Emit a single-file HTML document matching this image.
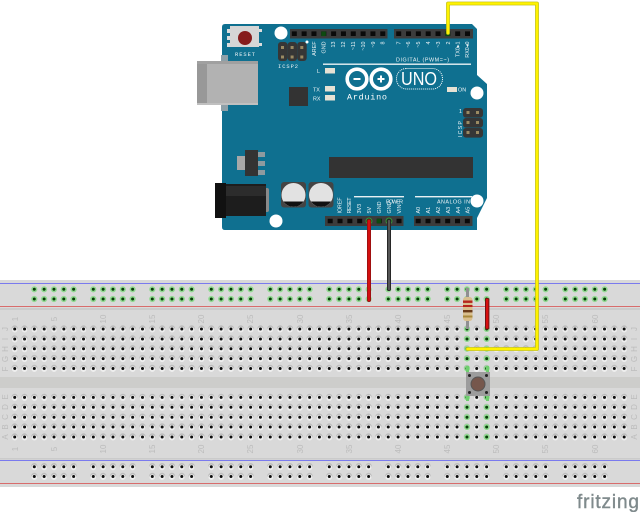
<!DOCTYPE html>
<html>
<head>
<meta charset="utf-8">
<style>
html,body{margin:0;padding:0;background:#fff}
svg{display:block;filter:blur(.3px)}
text{font-family:"Liberation Sans",sans-serif}
.w{font-family:"Liberation Mono",monospace;font-size:5.4px;fill:#eef4f6}
.t text{text-anchor:end}
.g{font-size:8px;fill:#bcbcbc;text-anchor:middle}
.ph{stroke:#bdbdbd;stroke-width:6.2;stroke-linecap:round;stroke-dasharray:0 9.83}
.pw{stroke:#eeeeee;stroke-width:5.6;stroke-linecap:round;stroke-dasharray:0 9.83}
.pk{stroke:#0c0c0c;stroke-width:3;stroke-linecap:round;stroke-dasharray:0 9.83}
.gh{stroke:#92da92;stroke-width:6.2;stroke-linecap:round;stroke-dasharray:0 9.83}
.gk{stroke:#0a3d0a;stroke-width:3;stroke-linecap:round;stroke-dasharray:0 9.83}
.hp{stroke:#0a0a0a;stroke-width:4.6;stroke-dasharray:5 4.83}
</style>
</head>
<body>
<svg width="640" height="512" viewBox="0 0 640 512" xmlns="http://www.w3.org/2000/svg">
<defs>
<g id="row">
<line class="ph" x1="14.7" x2="630" y1="-0.6" y2="-0.6"/>
<line class="pw" x1="14.7" x2="630" y1="0.7" y2="0.7"/>
<line class="pk" x1="14.7" x2="630" y1="0" y2="0"/>
</g>
<g id="g5">
<line class="gh" x1="0" x2="41" y1="0" y2="0"/>
<line class="gk" x1="0" x2="41" y1="0" y2="0"/>
</g>
<g id="b5">
<line class="ph" x1="0" x2="41" y1="-0.6" y2="-0.6"/>
<line class="pw" x1="0" x2="41" y1="0.7" y2="0.7"/>
<line class="pk" x1="0" x2="41" y1="0" y2="0"/>
</g>
<g id="g2">
<line class="gh" x1="0" x2="21" y1="0" y2="0" style="stroke-dasharray:0 19.66"/>
<line class="gk" x1="0" x2="21" y1="0" y2="0" style="stroke-dasharray:0 19.66"/>
</g>
<g id="grails"><use href="#g5" x="34.3"/><use href="#g5" x="93.3"/><use href="#g5" x="152.3"/><use href="#g5" x="211.3"/><use href="#g5" x="270.3"/><use href="#g5" x="329.3"/><use href="#g5" x="388.3"/><use href="#g5" x="447.3"/><use href="#g5" x="506.3"/><use href="#g5" x="565.3"/></g>
<g id="brails"><use href="#b5" x="34.3"/><use href="#b5" x="93.3"/><use href="#b5" x="152.3"/><use href="#b5" x="211.3"/><use href="#b5" x="270.3"/><use href="#b5" x="329.3"/><use href="#b5" x="388.3"/><use href="#b5" x="447.3"/><use href="#b5" x="506.3"/><use href="#b5" x="565.3"/></g>
</defs>

<rect width="640" height="512" fill="#fff"/>

<!-- breadboard -->
<rect x="0" y="280" width="640" height="207" fill="#d9d9d9"/>
<rect x="0" y="308" width="640" height="2" fill="#cbcbcb"/>
<rect x="0" y="458" width="640" height="1.5" fill="#cbcbcb"/>
<rect x="0" y="377" width="640" height="11" fill="#cdcdcb"/>
<rect x="0" y="283" width="640" height="1" fill="#7a7aee"/>
<rect x="0" y="306" width="640" height="1" fill="#d86c6c"/>
<rect x="0" y="460" width="640" height="1" fill="#7a7aee"/>
<rect x="0" y="483" width="640" height="1" fill="#d86c6c"/>

<use href="#grails" y="289.3"/>
<use href="#grails" y="299"/>
<use href="#row" y="329"/><use href="#row" y="339"/><use href="#row" y="348.8"/><use href="#row" y="358.6"/><use href="#row" y="368.5"/>
<use href="#row" y="397.4"/><use href="#row" y="407.3"/><use href="#row" y="417.2"/><use href="#row" y="427"/><use href="#row" y="437"/>
<use href="#brails" y="466.7"/>
<use href="#brails" y="476.5"/>

<!-- green columns -->
<use href="#g2" x="467" y="329"/><use href="#g2" x="467" y="339"/><use href="#g2" x="467" y="348.8"/><use href="#g2" x="467" y="358.6"/><use href="#g2" x="467" y="368.5"/>
<use href="#g2" x="467" y="397.4"/><use href="#g2" x="467" y="407.3"/><use href="#g2" x="467" y="417.2"/><use href="#g2" x="467" y="427"/><use href="#g2" x="467" y="437"/>

<!-- number labels -->
<g class="g">
<text transform="translate(18,319) rotate(-90)">1</text><text transform="translate(57,319) rotate(-90)">5</text><text transform="translate(106,319) rotate(-90)">10</text><text transform="translate(155,319) rotate(-90)">15</text><text transform="translate(204,319) rotate(-90)">20</text><text transform="translate(253,319) rotate(-90)">25</text><text transform="translate(303,319) rotate(-90)">30</text><text transform="translate(352,319) rotate(-90)">35</text><text transform="translate(401,319) rotate(-90)">40</text><text transform="translate(450,319) rotate(-90)">45</text><text transform="translate(499,319) rotate(-90)">50</text><text transform="translate(548,319) rotate(-90)">55</text><text transform="translate(598,319) rotate(-90)">60</text>
<text transform="translate(18,449) rotate(-90)">1</text><text transform="translate(57,449) rotate(-90)">5</text><text transform="translate(106,449) rotate(-90)">10</text><text transform="translate(155,449) rotate(-90)">15</text><text transform="translate(204,449) rotate(-90)">20</text><text transform="translate(253,449) rotate(-90)">25</text><text transform="translate(303,449) rotate(-90)">30</text><text transform="translate(352,449) rotate(-90)">35</text><text transform="translate(401,449) rotate(-90)">40</text><text transform="translate(450,449) rotate(-90)">45</text><text transform="translate(499,449) rotate(-90)">50</text><text transform="translate(548,449) rotate(-90)">55</text><text transform="translate(598,449) rotate(-90)">60</text>
<text transform="translate(8,329) rotate(-90)">J</text><text transform="translate(8,339) rotate(-90)">I</text><text transform="translate(8,349) rotate(-90)">H</text><text transform="translate(8,359) rotate(-90)">G</text><text transform="translate(8,369) rotate(-90)">F</text>
<text transform="translate(8,397) rotate(-90)">E</text><text transform="translate(8,407) rotate(-90)">D</text><text transform="translate(8,417) rotate(-90)">C</text><text transform="translate(8,427) rotate(-90)">B</text><text transform="translate(8,437) rotate(-90)">A</text>
<text transform="translate(637,329) rotate(-90)">J</text><text transform="translate(637,339) rotate(-90)">I</text><text transform="translate(637,349) rotate(-90)">H</text><text transform="translate(637,359) rotate(-90)">G</text><text transform="translate(637,369) rotate(-90)">F</text>
<text transform="translate(637,397) rotate(-90)">E</text><text transform="translate(637,407) rotate(-90)">D</text><text transform="translate(637,417) rotate(-90)">C</text><text transform="translate(637,427) rotate(-90)">B</text><text transform="translate(637,437) rotate(-90)">A</text>
</g>

<!-- arduino board -->
<path d="M225 24H472L477 29V75L487 84V198L477 218V230H225Q222 230 222 227V27Q222 24 225 24Z" fill="#0f7090"/>
<circle cx="281" cy="33" r="6.5" fill="#fff"/>
<circle cx="477" cy="93" r="6.5" fill="#fff"/>
<circle cx="276" cy="221" r="6.5" fill="#fff"/>
<circle cx="477" cy="201" r="6.5" fill="#fff"/>

<!-- USB -->
<rect x="221" y="55" width="7" height="56" fill="#8ea0a8"/>
<rect x="197" y="61" width="61" height="44" fill="#b2b2b2"/>
<rect x="197" y="61" width="10" height="44" fill="#989898"/>
<rect x="197" y="61" width="61" height="3" fill="#a0a0a0"/>
<rect x="197" y="103" width="61" height="2" fill="#c0c0c0"/>

<!-- reset -->
<rect x="227" y="29" width="4" height="4" fill="#ddd"/><rect x="227" y="36" width="4" height="4" fill="#ddd"/><rect x="227" y="43" width="4" height="4" fill="#ddd"/>
<rect x="259" y="29" width="3" height="3" fill="#ddd"/><rect x="259" y="43" width="3" height="3" fill="#ddd"/>
<rect x="230" y="26" width="29" height="21" fill="#d6d6d6"/>
<circle cx="245" cy="38" r="7" fill="#861c1c"/>
<text class="w" x="235" y="56" textLength="20">RESET</text>

<!-- ICSP2 -->
<rect x="278" y="42" width="9.5" height="19" rx="3" fill="#363636"/><rect x="287.6" y="42" width="9.5" height="19" rx="3" fill="#363636"/><rect x="297.2" y="42" width="9.5" height="19" rx="3" fill="#363636"/>
<g fill="#9a8a62"><rect x="281" y="46" width="3" height="3"/><rect x="290.6" y="46" width="3" height="3"/><rect x="300.3" y="46" width="3" height="3"/><rect x="281" y="55.5" width="3" height="3"/><rect x="290.6" y="55.5" width="3" height="3"/><rect x="300.3" y="55.5" width="3" height="3"/></g>
<circle cx="307" cy="42" r="1.5" fill="#fff"/>
<text class="w" x="278" y="68" textLength="20">ICSP2</text>

<!-- top headers -->
<rect x="290" y="29" width="97.5" height="9.5" fill="#3c3c3c"/>
<rect x="394" y="29" width="79" height="9.5" fill="#3c3c3c"/>
<line class="hp" x1="291.8" x2="386" y1="33.7" y2="33.7"/>
<line class="hp" x1="396.2" x2="471" y1="33.7" y2="33.7"/>
<rect x="321.3" y="31.5" width="4.6" height="4.6" fill="#0e4a10"/>
<rect x="445.5" y="31.5" width="4.6" height="4.6" fill="#0e4a10"/>

<!-- pin labels top -->
<g class="w t">
<text transform="translate(316,41.5) rotate(-90)">AREF</text><text transform="translate(325.5,41.5) rotate(-90)">GND</text>
<text transform="translate(335,41.5) rotate(-90)">13</text><text transform="translate(345,41.5) rotate(-90)">12</text><text transform="translate(355,41.5) rotate(-90)">~11</text><text transform="translate(365,41.5) rotate(-90)">~10</text><text transform="translate(375,41.5) rotate(-90)">~9</text><text transform="translate(384.5,41.5) rotate(-90)">8</text>
<text transform="translate(400.5,41.5) rotate(-90)">7</text><text transform="translate(410,41.5) rotate(-90)">~6</text><text transform="translate(420,41.5) rotate(-90)">~5</text><text transform="translate(430,41.5) rotate(-90)">4</text><text transform="translate(440,41.5) rotate(-90)">~3</text><text transform="translate(450,41.5) rotate(-90)">2</text>
<text transform="translate(459.5,41.5) rotate(-90)">TX0▸1</text><text transform="translate(469,41.5) rotate(-90)">RX0◂0</text>
</g>
<g class="w">
<text x="396" y="61.5" textLength="53">DIGITAL (PWM=~)</text>
<text x="317" y="73">L</text><text x="313" y="91.5">TX</text><text x="313" y="100.5">RX</text>
<text x="458" y="91.5">ON</text>
<text x="459" y="113">1</text>
<text transform="translate(462,137) rotate(-90)" textLength="16">ICSP</text>
</g>
<rect x="323" y="63.5" width="148" height="1.4" fill="#e8f0f3"/>
<rect x="325" y="68" width="10" height="5.5" fill="#e6e2d4"/>
<rect x="325" y="86" width="10" height="5.5" fill="#e6e2d4"/>
<rect x="325" y="95" width="10" height="5.5" fill="#e6e2d4"/>
<rect x="447" y="87" width="10" height="5" fill="#e6e2d4"/>
<rect x="289" y="87" width="19" height="19" fill="#333"/>

<!-- logo -->
<g fill="none" stroke="#fff" stroke-width="3.6">
<circle cx="357" cy="79" r="9.8"/>
<circle cx="381" cy="79" r="9.8"/>
</g>
<rect x="353.5" y="78" width="7" height="2" fill="#fff"/>
<rect x="377.5" y="78" width="7" height="2" fill="#fff"/>
<rect x="380" y="75.5" width="2" height="7" fill="#fff"/>
<text x="347" y="99.5" fill="#fff" textLength="40" style="font-family:'Liberation Mono',monospace;font-size:8.5px">Arduino</text>
<rect x="396.5" y="68.5" width="46" height="20.5" rx="10" fill="none" stroke="#fff" stroke-width="1" stroke-dasharray="1 1"/>
<text x="401" y="85" font-size="18" fill="#fff" textLength="36" lengthAdjust="spacingAndGlyphs">UNO</text>

<!-- ICSP -->
<rect x="463" y="108" width="20" height="9.6" rx="3" fill="#363636"/><rect x="463" y="118" width="20" height="9.6" rx="3" fill="#363636"/><rect x="463" y="128" width="20" height="9.6" rx="3" fill="#363636"/>
<g fill="#9a8a62"><rect x="466.5" y="111" width="3" height="3"/><rect x="476" y="111" width="3" height="3"/><rect x="466.5" y="121" width="3" height="3"/><rect x="476" y="121" width="3" height="3"/><rect x="466.5" y="131" width="3" height="3"/><rect x="476" y="131" width="3" height="3"/></g>

<!-- regulator -->
<rect x="237" y="156" width="8" height="14" fill="#a8a8a8"/>
<rect x="258" y="152" width="7" height="5" fill="#8f9a9f"/><rect x="258" y="161" width="7" height="5" fill="#8f9a9f"/><rect x="258" y="170" width="7" height="5" fill="#8f9a9f"/>
<rect x="245" y="150" width="13" height="26" fill="#333"/>

<!-- chip -->
<rect x="329" y="157" width="144" height="21" fill="#333"/>

<!-- jack -->
<rect x="264" y="188" width="5" height="24" rx="2" fill="#8a8a8a"/>
<rect x="215" y="184" width="51" height="32" fill="#1d1d1d"/>
<rect x="226" y="186" width="40" height="10" fill="#2c2c2c"/>
<rect x="215" y="183" width="11" height="35" fill="#111"/>

<!-- capacitors -->
<rect x="281" y="182" width="25" height="25.5" rx="3" fill="#444"/>
<rect x="308.5" y="182" width="25" height="25.5" rx="3" fill="#444"/>
<circle cx="293.5" cy="195" r="12" fill="#e2e2e2"/>
<circle cx="321" cy="195" r="12" fill="#e2e2e2"/>
<path d="M283.5 201.5H303.5A12 12 0 0 1 283.5 201.5Z" fill="#111"/>
<path d="M311 201.5H331A12 12 0 0 1 311 201.5Z" fill="#111"/>

<!-- bottom headers -->
<rect x="325" y="216" width="78.5" height="10" fill="#3c3c3c"/>
<rect x="414" y="216" width="58.5" height="10" fill="#3c3c3c"/>
<line class="hp" x1="327.7" x2="402" y1="221" y2="221"/>
<line class="hp" x1="415.7" x2="471" y1="221" y2="221"/>
<rect x="376.7" y="218.7" width="4.6" height="4.6" fill="#0e4a10"/>
<circle cx="369" cy="221" r="3" fill="#0e4a10" stroke="#3f8a3f"/>
<circle cx="389" cy="221" r="3" fill="#0e4a10" stroke="#3f8a3f"/>

<rect x="354" y="196" width="50" height="1.4" fill="#e8f0f3"/>
<rect x="415" y="196" width="57" height="1.4" fill="#e8f0f3"/>
<g class="w">
<text x="386" y="203.5" textLength="17">POWER</text>
<text x="437" y="203.5" textLength="33">ANALOG IN</text>
<text transform="translate(341.7,213.5) rotate(-90)" textLength="16">IOREF</text>
<text transform="translate(351,213.5) rotate(-90)" textLength="16">RESET</text>
<text transform="translate(361,213.5) rotate(-90)">3V3</text><text transform="translate(371,213.5) rotate(-90)">5V</text><text transform="translate(381,213.5) rotate(-90)">GND</text><text transform="translate(391,213.5) rotate(-90)">GND</text><text transform="translate(401,213.5) rotate(-90)">VIN</text>
<text transform="translate(420,213.5) rotate(-90)">A0</text><text transform="translate(430,213.5) rotate(-90)">A1</text><text transform="translate(440,213.5) rotate(-90)">A2</text><text transform="translate(450,213.5) rotate(-90)">A3</text><text transform="translate(460,213.5) rotate(-90)">A4</text><text transform="translate(469.5,213.5) rotate(-90)">A5</text>
</g>

<!-- wires -->
<line x1="369" y1="221" x2="369" y2="300" stroke="#8b1010" stroke-width="4" stroke-linecap="round"/>
<line x1="369" y1="221" x2="369" y2="300" stroke="#d40f0f" stroke-width="2.6" stroke-linecap="round"/>
<line x1="389" y1="221" x2="389" y2="289" stroke="#222" stroke-width="4" stroke-linecap="round"/>
<line x1="389" y1="221" x2="389" y2="289" stroke="#555" stroke-width="2.2" stroke-linecap="round"/>

<!-- resistor -->
<line x1="467.5" y1="288" x2="467.5" y2="329" stroke="#909090" stroke-width="3"/>
<rect x="463" y="297" width="9.5" height="24" rx="3" fill="#d9bf8e"/>
<rect x="463" y="300.5" width="9.5" height="2.4" fill="#b5261e"/>
<rect x="463" y="305" width="9.5" height="2" fill="#b5261e"/>
<rect x="463" y="310" width="9.5" height="2.4" fill="#6b3c1a"/>
<rect x="463" y="315.5" width="9.5" height="2" fill="#a98a3c"/>

<!-- short red wire -->
<rect x="485" y="298" width="4.4" height="31.5" rx="1.5" fill="#6e1414"/>
<rect x="486" y="299" width="2.4" height="29.5" fill="#d80f0f"/>

<!-- yellow wire -->
<path d="M448 33V3.5H537V349H467.5" fill="none" stroke="#bdbd18" stroke-width="3.8" stroke-linejoin="round" stroke-linecap="round"/>
<path d="M448 33V3.5H537V349H467.5" fill="none" stroke="#fff200" stroke-width="2.4" stroke-linejoin="round" stroke-linecap="round"/>

<!-- button -->
<rect x="466" y="366" width="3" height="8" fill="#6fcf6f"/><rect x="486" y="366" width="3" height="8" fill="#6fcf6f"/>
<rect x="466" y="395" width="3" height="6" fill="#6fcf6f"/><rect x="486" y="395" width="3" height="6" fill="#6fcf6f"/>
<rect x="466" y="372" width="24" height="24" fill="#9c9c9c"/>
<circle cx="478" cy="384" r="7" fill="#76574c" stroke="#555" stroke-width="1"/>
<g fill="#222"><circle cx="469.5" cy="375.5" r="1.5"/><circle cx="486.5" cy="375.5" r="1.5"/><circle cx="469.5" cy="392.5" r="1.5"/><circle cx="486.5" cy="392.5" r="1.5"/></g>

<!-- fritzing -->
<text x="577" y="508" font-size="19" fill="#7f8a8c" stroke="#7f8a8c" stroke-width=".4" textLength="62" lengthAdjust="spacing">fritzing</text>
</svg>
</body>
</html>
